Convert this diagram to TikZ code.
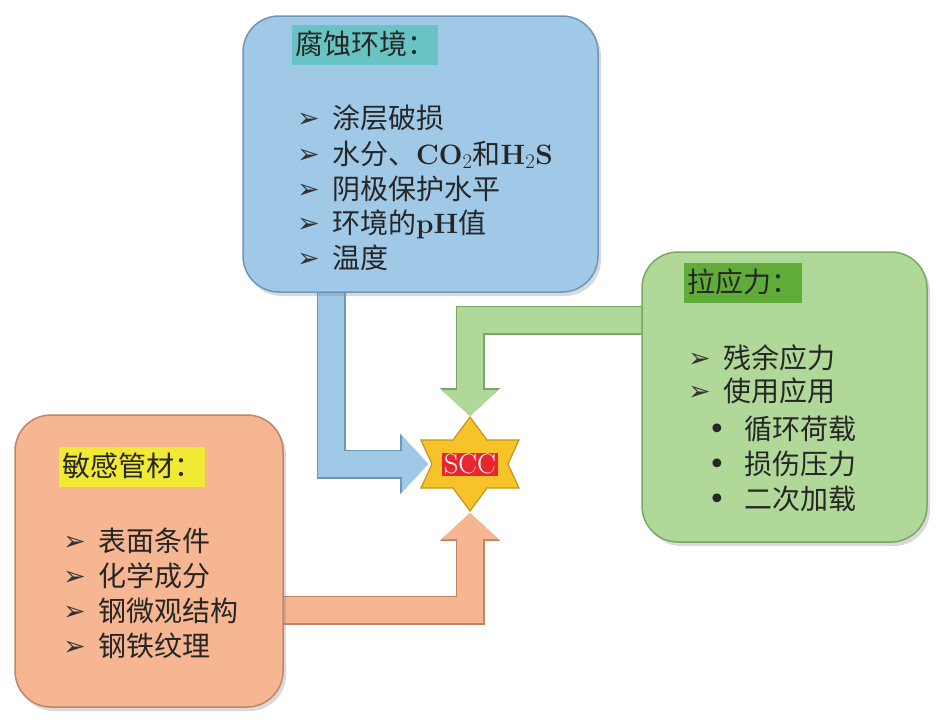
\documentclass[tikz,border=0pt]{standalone}
\usepackage{fontspec}
\newfontfamily\cjk{Noto Sans CJK SC}
\newfontfamily\symfont{DejaVu Sans}
\usetikzlibrary{arrows.meta,shadows,backgrounds}

\definecolor{envfill}{RGB}{160,201,231}
\definecolor{envedge}{RGB}{108,150,186}
\definecolor{envtitle}{RGB}{104,196,196}
\definecolor{strfill}{RGB}{176,216,152}
\definecolor{stredge}{RGB}{122,168,100}
\definecolor{strtitle}{RGB}{96,172,56}
\definecolor{matfill}{RGB}{246,182,146}
\definecolor{matedge}{RGB}{192,132,102}
\definecolor{mattitle}{RGB}{240,234,52}
\definecolor{stargold}{RGB}{246,196,40}
\definecolor{staredge}{RGB}{204,146,24}
\definecolor{sccred}{RGB}{232,38,46}

\newcommand{\arrowmark}{\makebox[35pt][l]{\raisebox{1pt}{\symfont\fontsize{27}{27}\selectfont\color{black!80}➢}}}
\newcommand{\dotmark}{\makebox[36pt][l]{\raisebox{0pt}{\symfont\fontsize{30}{30}\selectfont •}}}
\newcommand{\lat}[1]{{\rmfamily\bfseries #1}}

\tikzset{
  box/.style n args={2}{rounded corners=36pt, line width=1.5pt, minimum width=#1, minimum height=#2,
    drop shadow={shadow xshift=3pt,shadow yshift=-4pt,opacity=0.3}},
  titletext/.style={font=\cjk\fontsize{28}{34}\selectfont, text=black!85, anchor=west,
    inner xsep=3pt, inner ysep=5pt, text height=24pt, text depth=6pt},
  itemtext/.style={font=\cjk\fontsize{28}{34}\selectfont, text=black!85, anchor=west,
    inner sep=0pt, text height=24pt, text depth=6pt},
  flow/.style 2 args={draw=#1, line width=26pt, line join=miter, -{Triangle[width=55pt,length=26pt]},
    preaction={draw=#2, line width=29pt, -{Triangle[width=59pt,length=28pt]}}},
  starshape/.style={fill=stargold, draw=staredge, line width=1.2pt, line join=miter},
  scclabel/.style={fill=sccred, text=white, font=\rmfamily\fontsize{28}{28}\selectfont,
    inner xsep=2pt, inner ysep=2pt, text height=19pt, text depth=0pt}
}

\begin{document}
\begin{tikzpicture}[x=1pt,y=-1pt]
\useasboundingbox (0,0) rectangle (949,726);
\newcommand{\itemrow}[4]{\node[itemtext] (#1) at (#2,#3) {\arrowmark #4};}
\newcommand{\subrow}[4]{\node[itemtext] (#1) at (#2,#3) {\dotmark #4};}

% boxes
\node[box={355pt}{276pt}, fill=envfill, draw=envedge] (env) at (420.5,154) {};
\node[box={285pt}{290pt}, fill=strfill, draw=stredge] (grn) at (784.5,397) {};
\node[box={268pt}{292pt}, fill=matfill, draw=matedge] (mat) at (149,561) {};

% star with SCC
\coordinate (star) at (470,464);
\draw[starshape, shift={(star)}] (0,-47) -- (17,-24) -- (49,-24) -- (38,0) -- (49,24) -- (17,24)
  -- (0,47) -- (-17,24) -- (-49,24) -- (-38,0) -- (-49,-24) -- (-17,-24) -- cycle;
\node[scclabel] (scc) at (star) {SCC};
\coordinate (tipW) at (428,464);
\coordinate (tipN) at (470,416);
\coordinate (tipS) at (470,513);

% connectors
\coordinate (bbend) at (331,464);
\coordinate (gbend) at (470,320);
\coordinate (obend) at (470,610);
\begin{scope}[on background layer]
\draw[flow={envfill}{envedge}] ([yshift=10pt]env.south -| bbend) -- (bbend) -- (tipW);
\draw[flow={strfill}{stredge}] ([xshift=10pt]grn.west |- gbend) -- (gbend) -- (tipN);
\draw[flow={matfill}{matedge}] ([xshift=-10pt]mat.east |- obend) -- (obend) -- (tipS);
\end{scope}

% corrosive environment
\node[titletext, fill=envtitle] (envhead) at (292,45) {腐蚀环境：};
\itemrow{env1}{297}{119}{涂层破损}
\itemrow{env2}{297}{155}{水分、\lat{CO}$_2$和\lat{H}$_2$\lat{S}}
\itemrow{env3}{297}{190}{阴极保护水平}
\itemrow{env4}{297}{224}{环境的\lat{pH}值}
\itemrow{env5}{297}{259}{温度}

% tensile stress
\node[titletext, fill=strtitle] (grnhead) at (684,283) {拉应力：};
\itemrow{grn1}{688}{359}{残余应力}
\itemrow{grn2}{688}{392}{使用应用}
\subrow{grn3}{708}{430}{循环荷载}
\subrow{grn4}{708}{465}{损伤压力}
\subrow{grn5}{708}{500}{二次加载}

% susceptible pipe
\node[titletext, fill=mattitle] (mathead) at (59,467) {敏感管材：};
\itemrow{mat1}{63}{542}{表面条件}
\itemrow{mat2}{63}{577}{化学成分}
\itemrow{mat3}{63}{612}{钢微观结构}
\itemrow{mat4}{63}{647}{钢铁纹理}
\end{tikzpicture}
\end{document}
